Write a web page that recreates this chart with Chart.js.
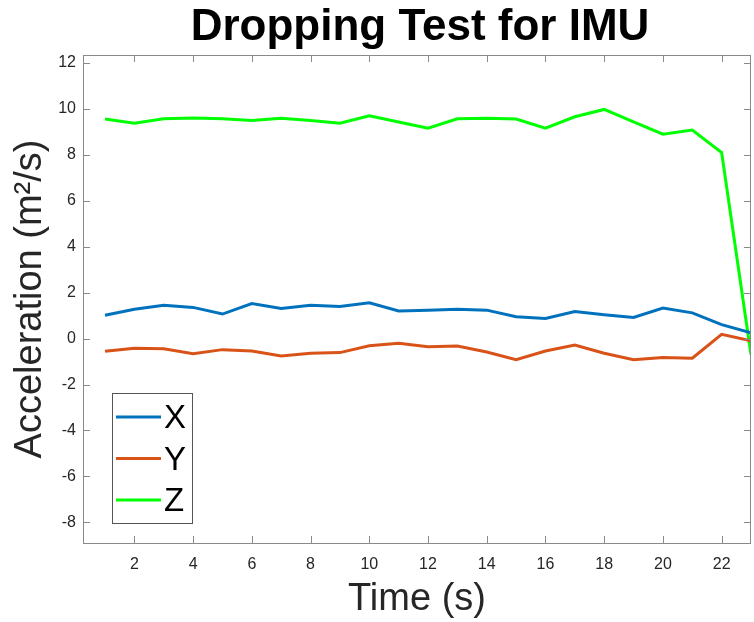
<!DOCTYPE html>
<html>
<head>
<meta charset="utf-8">
<script src="https://cdn.jsdelivr.net/npm/chart.js@4"></script>
<style>
  html, body { margin: 0; padding: 0; background: #fff; }
  #wrap { width: 754px; height: 622px; }
</style>
</head>
<body>
<div id="wrap"><canvas id="imuChart" width="754" height="622"></canvas></div>
<script>
// time in seconds
const times = [1, 2, 3, 4, 5, 6, 7, 8, 9, 10, 11, 12, 13, 14, 15, 16, 17, 18, 19, 20, 21, 22, 23];

// acceleration readings per axis
const accX = [1.02, 1.28, 1.45, 1.36, 1.07, 1.53, 1.31, 1.45, 1.40, 1.56, 1.20, 1.24, 1.28, 1.24, 0.95, 0.88, 1.18, 1.04, 0.92, 1.33, 1.12, 0.61, 0.25];
const accY = [-0.55, -0.42, -0.44, -0.66, -0.48, -0.54, -0.76, -0.64, -0.61, -0.31, -0.20, -0.35, -0.32, -0.58, -0.92, -0.54, -0.28, -0.64, -0.92, -0.82, -0.85, 0.19, -0.09];
const accZ = [9.56, 9.38, 9.57, 9.61, 9.57, 9.50, 9.60, 9.50, 9.38, 9.70, 9.43, 9.16, 9.57, 9.60, 9.56, 9.16, 9.66, 9.98, 9.44, 8.90, 9.08, 8.10, -0.70];

const seriesNames = ['X', 'Y', 'Z'];
const seriesColors = ['#0072BD', '#D95319', '#00FF00'];

const xTicks = [2, 4, 6, 8, 10, 12, 14, 16, 18, 20, 22];
const yTicks = [-8, -6, -4, -2, 0, 2, 4, 6, 8, 10, 12];

const chartTitle = 'Dropping Test for IMU';

function toPoints(ys) {
    return ys.map((y, i) => ({ x: times[i], y: y }));
}

const fontFam = '"Liberation Sans", Arial, sans-serif';
const axisGray = '#8a8a8a';
const tickText = '#262626';

// title centred over the plot box rather than the canvas
const plotTitle = {
    id: 'plotTitle',
    afterDraw(chart) {
        const ctx = chart.ctx;
        const a = chart.chartArea;
        ctx.save();
        ctx.font = 'bold 44px ' + fontFam;
        ctx.fillStyle = '#000';
        ctx.textAlign = 'center';
        ctx.textBaseline = 'alphabetic';
        ctx.fillText(chartTitle, (a.left + a.right) / 2 + 3, a.top - 15);
        ctx.restore();
    }
};

// matlab style box with inward ticks on all four sides
const boxTicks = {
    id: 'boxTicks',
    afterDatasetsDraw(chart) {
        const ctx = chart.ctx;
        const a = chart.chartArea;
        const len = 7;
        ctx.save();
        ctx.strokeStyle = axisGray;
        ctx.lineWidth = 1;
        ctx.beginPath();
        chart.scales.x.ticks.forEach(t => {
            const px = Math.round(chart.scales.x.getPixelForValue(t.value)) + 0.5;
            ctx.moveTo(px, a.bottom); ctx.lineTo(px, a.bottom - len);
            ctx.moveTo(px, a.top); ctx.lineTo(px, a.top + len);
        });
        chart.scales.y.ticks.forEach(t => {
            const py = Math.round(chart.scales.y.getPixelForValue(t.value)) + 0.5;
            ctx.moveTo(a.left, py); ctx.lineTo(a.left + len, py);
            ctx.moveTo(a.right, py); ctx.lineTo(a.right - len, py);
        });
        ctx.stroke();
        ctx.strokeRect(Math.round(a.left) + 0.5, Math.round(a.top) + 0.5,
            Math.round(a.right - a.left) - 1, Math.round(a.bottom - a.top));
        ctx.restore();
    }
};

// legend box in the lower left corner of the plot
const boxLegend = {
    id: 'boxLegend',
    afterDraw(chart) {
        const ctx = chart.ctx;
        const a = chart.chartArea;
        const left = a.left + 29, bottom = a.bottom - 20;
        const w = 80, h = 130;
        const top = bottom - h;
        ctx.save();
        ctx.fillStyle = '#fff';
        ctx.fillRect(left, top, w, h);
        ctx.strokeStyle = '#555';
        ctx.lineWidth = 1;
        ctx.strokeRect(left + 0.5, top + 0.5, w, h);
        ctx.font = '33px ' + fontFam;
        ctx.textBaseline = 'middle';
        ctx.fillStyle = '#000';
        chart.data.datasets.forEach((ds, i) => {
            const cy = top + 24 + i * 41.5;
            ctx.strokeStyle = ds.borderColor;
            ctx.lineWidth = 3;
            ctx.beginPath();
            ctx.moveTo(left + 4, cy);
            ctx.lineTo(left + 49, cy);
            ctx.stroke();
            ctx.fillText(ds.label, left + 52, cy + 2);
        });
        ctx.restore();
    }
};

const ctx = document.getElementById('imuChart').getContext('2d');
new Chart(ctx, {
    type: 'line',
    data: {
        datasets: [accX, accY, accZ].map((vals, i) => ({
            label: seriesNames[i],
            data: toPoints(vals),
            borderColor: seriesColors[i],
            backgroundColor: seriesColors[i],
            borderWidth: 3,
            pointRadius: 0,
            tension: 0,
            fill: false
        }))
    },
    options: {
        responsive: false,
        animation: false,
        devicePixelRatio: 1,
        layout: { padding: { left: 0, right: 3, top: 55, bottom: 0 } },
        plugins: {
            legend: { display: false },
            tooltip: { enabled: false },
            title: { display: false }
        },
        scales: {
            x: {
                type: 'linear',
                min: 0.25,
                max: 23,
                afterBuildTicks: s => { s.ticks = xTicks.map(v => ({ value: v })); },
                afterFit: s => { s.height = 79; },
                grid: { display: false, drawTicks: false },
                border: { display: false },
                ticks: {
                    color: tickText,
                    padding: 12,
                    font: { family: fontFam, size: 16 }
                },
                title: {
                    display: true,
                    text: 'Time (s)',
                    color: tickText,
                    font: { family: fontFam, size: 38 },
                    padding: { top: 2, bottom: 0 }
                }
            },
            y: {
                type: 'linear',
                min: -8.9,
                max: 12.35,
                afterBuildTicks: s => { s.ticks = yTicks.map(v => ({ value: v })); },
                afterFit: s => { s.width = 83; },
                grid: { display: false, drawTicks: false },
                border: { display: false },
                ticks: {
                    color: tickText,
                    padding: 7,
                    font: { family: fontFam, size: 16 }
                },
                title: {
                    display: true,
                    text: 'Acceleration (m\u00B2/s)',
                    color: tickText,
                    font: { family: fontFam, size: 38 },
                    padding: { top: 8, bottom: 0 }
                }
            }
        }
    },
    plugins: [boxTicks, boxLegend, plotTitle]
});
</script>
</body>
</html>
